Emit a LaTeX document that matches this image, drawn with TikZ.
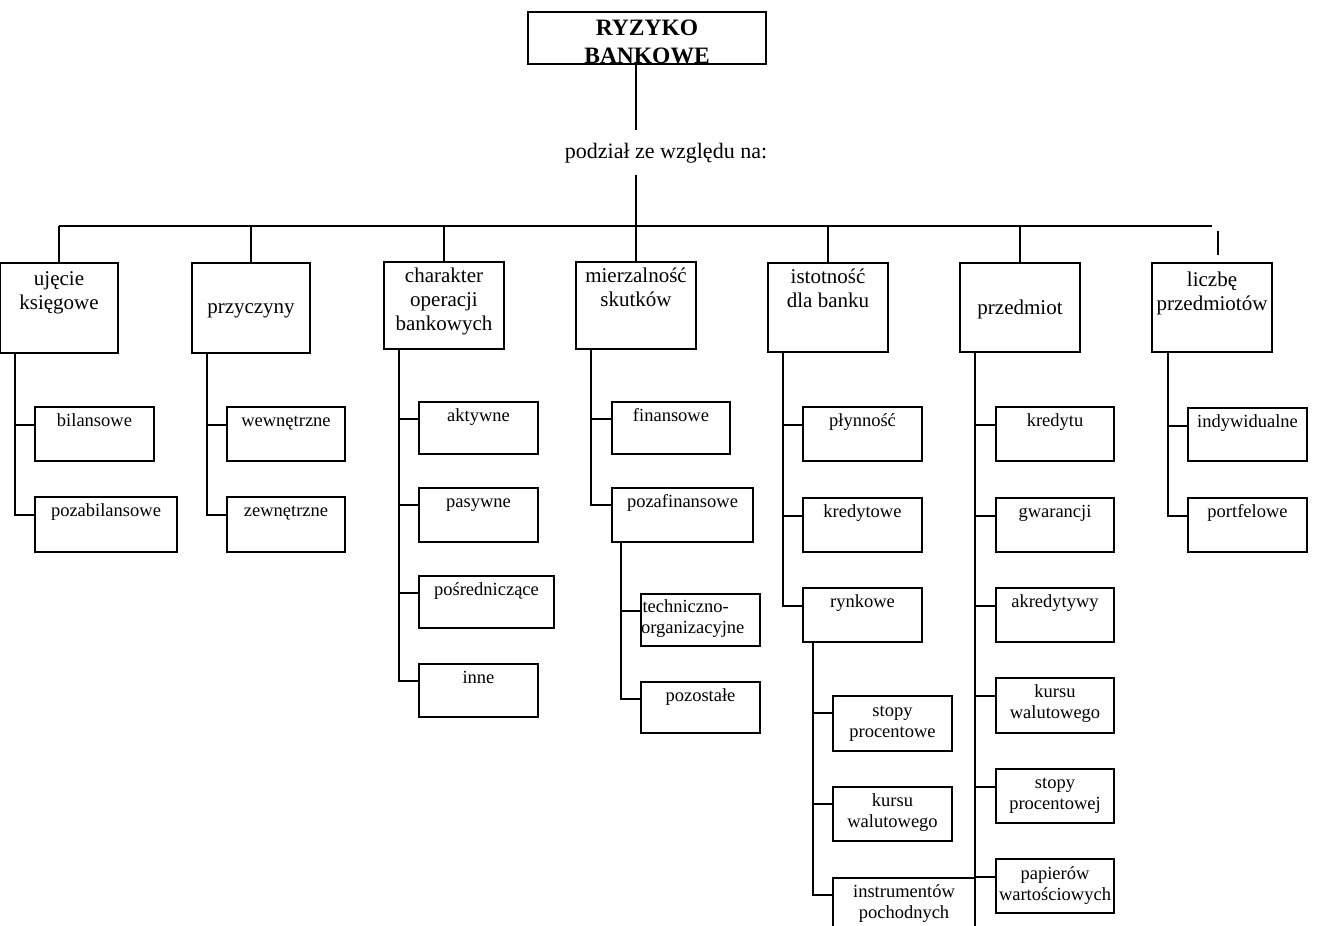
\documentclass[tikz,border=0pt]{standalone}
\usepackage{fontspec}
\setmainfont{Liberation Serif}
\newcommand\cellbox[4]{\parbox[b][#2pt][t]{#1pt}{\centering\rule{0pt}{#3pt}#4\par}}
\newcommand\cellboxl[4]{\parbox[b][#2pt][t]{#1pt}{\raggedright\hspace*{1.5pt}\rule{0pt}{#3pt}#4\par}}
\tikzset{
  bx/.style={draw, line width=1.8pt, inner sep=0pt, outer sep=0pt, anchor=north west},
  big/.style={font=\fontsize{21}{24}\selectfont},
  small/.style={font=\fontsize{18.5}{21.5}\selectfont},
  ttl/.style={font=\bfseries\fontsize{23.5}{28}\selectfont},
  ln/.style={line width=1.8pt},
}
\begin{document}
\begin{tikzpicture}[x=1pt,y=-1pt]
\useasboundingbox (0,0) rectangle (1317,926);
\clip (0,0) rectangle (1317,926);
% top
\node[bx,ttl] (top) at (528,12) {\cellbox{238}{52}{23}{RYZYKO\\BANKOWE}};
\node[font=\fontsize{22}{26}\selectfont, anchor=base, inner sep=0pt] (lab) at (666,158) {podział ze względu na:};
\coordinate (t1) at (636,130);
\coordinate (t2) at (636,175);
\coordinate (bL) at (59,226);
\coordinate (bR) at (1212,226);
\coordinate (g1) at (1218,231);
\coordinate (g2) at (1218,255);
\coordinate (fend) at (975,940);
% level 1
\node[bx,big] (A) at (0,263)   {\cellbox{118}{90}{22}{ujęcie\\księgowe}};
\node[bx,big] (B) at (192,263) {\cellbox{118}{90}{50}{przyczyny}};
\node[bx,big] (C) at (384,262) {\cellbox{120}{87}{20}{charakter\\operacji\\bankowych}};
\node[bx,big] (D) at (576,262) {\cellbox{120}{87}{20}{mierzalność\\skutków}};
\node[bx,big] (E) at (768,263) {\cellbox{120}{89}{20}{istotność\\dla banku}};
\node[bx,big] (F) at (960,263) {\cellbox{120}{89}{51}{przedmiot}};
\node[bx,big] (G) at (1152,263){\cellbox{120}{89}{23}{liczbę\\przedmiotów}};
% level 2
\node[bx,small] (A1) at (35,407)  {\cellbox{119}{54}{19}{bilansowe}};
\node[bx,small] (A2) at (35,497)  {\cellbox{142}{55}{19}{pozabilansowe}};
\node[bx,small] (B1) at (227,407) {\cellbox{118}{54}{19}{wewnętrzne}};
\node[bx,small] (B2) at (227,497) {\cellbox{118}{55}{19}{zewnętrzne}};
\node[bx,small] (C1) at (419,402) {\cellbox{119}{52}{19}{aktywne}};
\node[bx,small] (C2) at (419,488) {\cellbox{119}{54}{19}{pasywne}};
\node[bx,small] (C3) at (419,576) {\cellbox{135}{52}{19}{pośredniczące}};
\node[bx,small] (C4) at (419,664) {\cellbox{119}{53}{19}{inne}};
\node[bx,small] (D1) at (612,402) {\cellbox{118}{52}{19}{finansowe}};
\node[bx,small] (D2) at (612,488) {\cellbox{141}{54}{19}{pozafinansowe}};
\node[bx,small] (D3) at (641,594) {\cellboxl{119}{52}{18}{techniczno-\\organizacyjne}};
\node[bx,small] (D4) at (641,682) {\cellbox{119}{51}{19}{pozostałe}};
\node[bx,small] (E1) at (803,407) {\cellbox{119}{54}{19}{płynność}};
\node[bx,small] (E2) at (803,498) {\cellbox{119}{54}{19}{kredytowe}};
\node[bx,small] (E3) at (803,588) {\cellbox{119}{54}{19}{rynkowe}};
\node[bx,small] (E4) at (833,696) {\cellbox{119}{55}{20}{stopy\\procentowe}};
\node[bx,small] (E5) at (833,787) {\cellbox{119}{54}{19}{kursu\\walutowego}};
\node[bx,small] (E6) at (833,878) {\cellbox{142}{62}{19}{instrumentów\\pochodnych}};
\node[bx,small] (F1) at (996,407) {\cellbox{118}{54}{19}{kredytu}};
\node[bx,small] (F2) at (996,498) {\cellbox{118}{54}{19}{gwarancji}};
\node[bx,small] (F3) at (996,588) {\cellbox{118}{54}{19}{akredytywy}};
\node[bx,small] (F4) at (996,678) {\cellbox{118}{55}{19}{kursu\\walutowego}};
\node[bx,small] (F5) at (996,769) {\cellbox{118}{54}{19}{stopy\\procentowej}};
\node[bx,small] (F6) at (996,859) {\cellbox{118}{54}{20}{papierów\\wartościowych}};
\node[bx,small] (G1) at (1188,408){\cellbox{119}{53}{19}{indywidualne}};
\node[bx,small] (G2) at (1188,498){\cellbox{119}{54}{19}{portfelowe}};
% top connectors
\draw[ln] (top.south -| t1) -- (t1);
\draw[ln] (t2) -- (t2 |- bL);
\draw[ln] (bL) -- (bR);
\foreach \n in {A,B,C,D,E,F}{\draw[ln] (\n.north) -- (\n.north |- bL);}
\draw[ln] (g1) -- (g2);
% trunks
\foreach \c in {A1,A2}{\draw[ln] ([xshift=15pt]A.south west) |- ([yshift=-18pt]\c.north west);}
\foreach \c in {B1,B2}{\draw[ln] ([xshift=15pt]B.south west) |- ([yshift=-18pt]\c.north west);}
\foreach \c in {C1,C2,C3,C4}{\draw[ln] ([xshift=15pt]C.south west) |- ([yshift=-17pt]\c.north west);}
\foreach \c in {D1,D2}{\draw[ln] ([xshift=15pt]D.south west) |- ([yshift=-17pt]\c.north west);}
\foreach \c in {D3,D4}{\draw[ln] ([xshift=9pt]D2.south west) |- ([yshift=-17pt]\c.north west);}
\foreach \c in {E1,E2,E3}{\draw[ln] ([xshift=15pt]E.south west) |- ([yshift=-18pt]\c.north west);}
\foreach \c in {E4,E5,E6}{\draw[ln] ([xshift=10pt]E3.south west) |- ([yshift=-17pt]\c.north west);}
\draw[ln] ([xshift=15pt]F.south west) -- (fend);
\foreach \c in {F1,F2,F3,F4,F5,F6}{\draw[ln] ([xshift=15pt]F.south west) |- ([yshift=-18pt]\c.north west);}
\foreach \c in {G1,G2}{\draw[ln] ([xshift=16pt]G.south west) |- ([yshift=-18pt]\c.north west);}
\end{tikzpicture}
\end{document}
